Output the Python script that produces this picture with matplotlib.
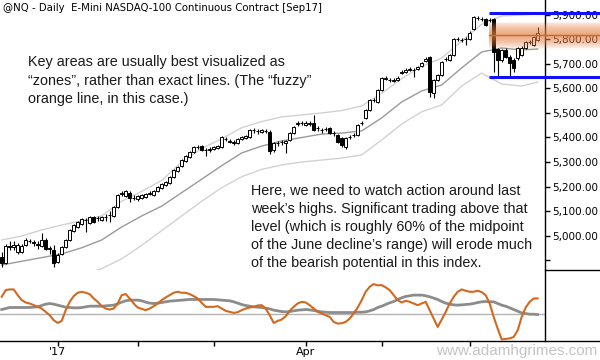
import numpy as np
import matplotlib.pyplot as plt
from matplotlib.lines import Line2D

# daily bars, @NQ Sep17 contract (mid Dec 2016 - late Jun 2017)
opens = [4912, 4888, 4957, 4953, 4933, 4933, 4961, 4978, 4974, 4966,
         4957, 4982, 4945, 4941, 4892, 4925, 4953, 4982, 5018, 5035,
         5047, 5063, 5051, 5076, 5072, 5063, 5076, 5084, 5080, 5116,
         5169, 5161, 5174, 5153, 5149, 5153, 5157, 5169, 5165, 5182,
         5194, 5206, 5214, 5239, 5263, 5284, 5304, 5320, 5341, 5361,
         5365, 5349, 5349, 5353, 5357, 5361, 5394, 5382, 5378, 5378,
         5394, 5398, 5402, 5431, 5427, 5422, 5427, 5422, 5349, 5378,
         5382, 5378, 5390, 5418, 5455, 5459, 5451, 5455, 5459, 5439,
         5431, 5435, 5439, 5418, 5410, 5398, 5361, 5402, 5410, 5410,
         5459, 5480, 5512, 5553, 5545, 5594, 5639, 5635, 5631, 5635,
         5663, 5667, 5675, 5675, 5680, 5692, 5712, 5728, 5582, 5635,
         5655, 5720, 5716, 5737, 5802, 5798, 5802, 5802, 5843, 5888,
         5883, 5883, 5879, 5883, 5761, 5716, 5757, 5728, 5716, 5724,
         5737, 5765, 5790, 5777, 5798]
highs = [4933, 4966, 4978, 4978, 4970, 4966, 4990, 4986, 4982, 4978,
         5010, 4990, 4957, 4961, 4929, 4957, 4986, 5027, 5047, 5059,
         5072, 5072, 5080, 5080, 5080, 5080, 5088, 5100, 5121, 5169,
         5182, 5186, 5182, 5165, 5165, 5169, 5174, 5182, 5186, 5202,
         5214, 5222, 5243, 5272, 5284, 5312, 5329, 5345, 5365, 5369,
         5369, 5357, 5361, 5365, 5369, 5406, 5402, 5394, 5390, 5398,
         5406, 5410, 5435, 5439, 5435, 5435, 5435, 5431, 5382, 5386,
         5390, 5390, 5422, 5447, 5467, 5467, 5467, 5467, 5492, 5447,
         5439, 5443, 5443, 5427, 5414, 5402, 5402, 5410, 5418, 5455,
         5467, 5516, 5557, 5561, 5598, 5647, 5651, 5643, 5643, 5651,
         5675, 5684, 5688, 5684, 5692, 5708, 5728, 5733, 5639, 5659,
         5712, 5728, 5741, 5806, 5810, 5806, 5810, 5835, 5896, 5896,
         5892, 5888, 5888, 5888, 5765, 5761, 5765, 5737, 5724, 5769,
         5773, 5794, 5798, 5814, 5851]
lows = [4872, 4884, 4941, 4941, 4925, 4929, 4957, 4970, 4957, 4945,
        4953, 4941, 4925, 4872, 4888, 4921, 4949, 4978, 5014, 5031,
        5043, 5014, 5047, 5051, 5059, 5059, 5059, 5055, 5076, 5112,
        5161, 5157, 5137, 5145, 5141, 5149, 5153, 5165, 5161, 5178,
        5190, 5202, 5210, 5235, 5259, 5280, 5300, 5316, 5337, 5353,
        5345, 5325, 5341, 5349, 5353, 5357, 5386, 5378, 5369, 5373,
        5390, 5394, 5398, 5418, 5414, 5418, 5418, 5333, 5341, 5365,
        5369, 5337, 5386, 5414, 5447, 5451, 5447, 5447, 5427, 5427,
        5418, 5427, 5414, 5406, 5378, 5361, 5353, 5394, 5402, 5406,
        5451, 5476, 5508, 5545, 5541, 5590, 5635, 5626, 5626, 5631,
        5659, 5663, 5671, 5647, 5675, 5688, 5708, 5565, 5561, 5631,
        5651, 5712, 5712, 5733, 5794, 5790, 5777, 5798, 5839, 5879,
        5875, 5855, 5871, 5667, 5647, 5708, 5724, 5647, 5667, 5716,
        5733, 5761, 5781, 5773, 5794]
closes = [4888, 4957, 4953, 4961, 4961, 4957, 4982, 4978, 4970, 4961,
          4982, 4945, 4949, 4888, 4921, 4953, 4982, 5023, 5043, 5055,
          5068, 5063, 5076, 5055, 5072, 5076, 5076, 5084, 5116, 5165,
          5174, 5182, 5153, 5153, 5161, 5165, 5169, 5174, 5182, 5198,
          5210, 5218, 5239, 5267, 5280, 5308, 5325, 5341, 5361, 5361,
          5349, 5349, 5353, 5361, 5365, 5402, 5394, 5386, 5382, 5394,
          5402, 5406, 5431, 5431, 5427, 5431, 5427, 5345, 5378, 5378,
          5382, 5386, 5418, 5443, 5459, 5459, 5459, 5459, 5431, 5439,
          5431, 5435, 5418, 5418, 5382, 5369, 5398, 5402, 5410, 5451,
          5459, 5512, 5553, 5553, 5594, 5643, 5643, 5635, 5635, 5643,
          5667, 5675, 5680, 5675, 5688, 5704, 5720, 5586, 5635, 5655,
          5708, 5720, 5737, 5802, 5802, 5798, 5802, 5826, 5892, 5888,
          5883, 5859, 5879, 5749, 5716, 5757, 5728, 5704, 5684, 5765,
          5765, 5790, 5790, 5810, 5826]

# channel (sampled every 5 bars)
band_idx = list(range(0, 135, 5)) + [134]
band_mid = [4880, 4895, 4910, 4925, 4950, 4982, 5035, 5080, 5120, 5175,
            5230, 5285, 5337, 5365, 5386, 5400, 5414, 5418, 5427, 5480,
            5545, 5590, 5614, 5684, 5749, 5765, 5757, 5761]
band_up = [4982, 4998, 5023, 5043, 5060, 5080, 5140, 5180, 5225, 5300,
           5355, 5395, 5440, 5465, 5484, 5492, 5500, 5510, 5529, 5580,
           5640, 5690, 5724, 5794, 5862, 5896, 5900, 5904]
band_lo = [4760, 4780, 4800, 4815, 4840, 4865, 4905, 4960, 5020, 5080,
           5140, 5195, 5240, 5270, 5288, 5300, 5308, 5316, 5329, 5390,
           5455, 5505, 5533, 5610, 5663, 5618, 5610, 5626]

# lower panel oscillator
osc_fast = [5.0, 7.0, 7.2, 7.2, 5.5, 4.0, 3.3, 3.0, 2.5, 2.0,
            1.5, 0.5, -0.5, -2.0, -2.8, -2.2, 1.0, 3.5, 5.2, 6.2,
            6.5, 6.2, 5.8, 4.5, 3.5, 2.2, 1.5, 1.2, 1.5, 3.0,
            5.5, 5.8, 4.5, 3.0, 1.8, 1.4, 1.0, 1.5, 2.2, 3.0,
            4.0, 4.8, 5.5, 6.2, 6.5, 6.2, 6.2, 5.8, 5.2, 4.5,
            3.2, 2.0, 2.0, 2.0, 2.2, 1.5, 0.8, 0.5, 0.2, 0.4,
            1.0, 1.5, 1.8, 2.0, 2.4, 2.5, 1.5, -0.5, -2.8, -2.2,
            -1.8, -0.8, 0.8, 2.0, 3.0, 3.5, 3.3, 2.5, 1.5, 0.5,
            0.0, -0.5, -1.0, -2.5, -3.0, -2.9, -2.5, -1.5, 0.0, 1.8,
            4.0, 6.5, 8.0, 8.8, 8.4, 8.5, 7.8, 7.0, 5.5, 4.0,
            3.3, 3.8, 3.5, 3.0, 2.5, 3.0, 3.5, 1.0, -1.5, -4.0,
            -1.8, 0.5, 3.0, 5.0, 6.5, 7.2, 6.8, 6.5, 6.5, 6.8,
            6.4, 5.5, 3.0, -1.0, -4.5, -7.7, -7.6, -7.4, -7.0, -5.0,
            -1.0, 1.8, 3.5, 4.5, 4.5]
osc_slow = [1.2, 1.5, 1.8, 1.8, 1.8, 1.8, 1.8, 1.8, 1.9, 2.0,
            2.4, 2.8, 3.0, 2.8, 2.5, 2.2, 1.9, 1.8, 1.7, 1.7,
            1.8, 2.0, 2.2, 2.2, 2.2, 2.2, 2.3, 2.4, 2.5, 2.9,
            3.4, 3.8, 4.0, 4.0, 4.0, 3.8, 3.4, 3.1, 3.0, 3.1,
            3.3, 3.5, 3.7, 3.8, 3.9, 4.0, 4.1, 4.2, 4.2, 4.2,
            4.2, 4.2, 4.2, 4.2, 4.1, 4.0, 3.9, 3.8, 3.5, 3.1,
            2.7, 2.4, 2.2, 2.0, 1.9, 1.8, 1.6, 1.4, 1.0, 0.8,
            0.6, 0.5, 0.6, 0.8, 1.0, 1.1, 1.2, 1.1, 0.9, 0.7,
            0.5, 0.4, 0.3, 0.3, 0.3, 0.3, 0.3, 0.3, 0.3, 0.4,
            0.4, 0.5, 0.8, 1.2, 1.8, 2.2, 2.7, 3.2, 3.6, 4.2,
            4.7, 5.1, 5.3, 5.5, 5.5, 5.5, 5.3, 5.0, 4.6, 4.2,
            3.6, 3.1, 2.8, 2.6, 2.5, 2.6, 2.7, 2.8, 3.0, 3.3,
            3.5, 3.6, 3.5, 3.5, 3.0, 2.5, 2.2, 1.7, 1.2, 0.7,
            0.2, 0.0, -0.2, -0.2, -0.3]

# month ticks (bar index of first session)
month_idx = [14, 34, 53, 76, 95, 117]
month_lbl = ["'17", "", "", "Apr", "", ""]
price_ticks = [4900, 5000, 5100, 5200, 5300, 5400, 5500, 5600, 5700, 5800, 5900]

# key levels
box_top, box_bot = 5908, 5645
zone_level = 5818
box_start = 121.8

n = len(closes)
idx = np.arange(n)
o = np.array(opens); c = np.array(closes)
h = np.array(highs); l = np.array(lows)

fig = plt.figure(figsize=(6, 3.6), dpi=100)
ax = fig.add_axes([0, 0.25, 545/600, 0.75])
ax2 = fig.add_axes([0, 19/360, 545/600, 0.25 - 19/360])

xlim = (-0.425, 135.83)

# channel lines
ax.plot(band_idx, band_up, color='#d2d2d2', lw=1, zorder=1)
ax.plot(band_idx, band_lo, color='#d2d2d2', lw=1, zorder=1)
ax.plot(band_idx, band_mid, color='#9a9a9a', lw=1, zorder=1)

# candles
ax.vlines(idx, l, h, color='black', lw=0.8, zorder=2)
up = c >= o
body_lo = np.minimum(o, c)
body_h = np.maximum(np.abs(c - o), 0.6)
ax.bar(idx[up], body_h[up], bottom=body_lo[up], width=0.62,
       facecolor='white', edgecolor='black', lw=0.7, zorder=3)
ax.bar(idx[~up], body_h[~up], bottom=body_lo[~up], width=0.62,
       facecolor='black', edgecolor='black', lw=0.7, zorder=3)

# fuzzy orange zone
for k in range(14):
    half = 55 * (1 - k / 14.0)
    ax.fill_between([box_start, 150], zone_level - half, zone_level + half,
                    color='#e9854a', alpha=0.08, lw=0, clip_on=False, zorder=4)
ax.plot([box_start, 150], [zone_level, zone_level], color='#c8692a', lw=1,
        clip_on=False, zorder=5)

# blue box
ax.plot([box_start, 150], [box_top, box_top], color='#1010ff', lw=2.2,
        clip_on=False, zorder=6, solid_capstyle='butt')
ax.plot([box_start, 150], [box_bot, box_bot], color='#1010ff', lw=2.2,
        clip_on=False, zorder=6, solid_capstyle='butt')

ax.set_xlim(xlim)
ax.set_ylim(4859.4, 5961)
for s in ['left', 'top', 'bottom']:
    ax.spines[s].set_visible(False)
ax.spines['right'].set_linewidth(1)
ax.yaxis.tick_right()
ax.set_yticks(price_ticks)
ax.set_yticklabels([''] + ['{:,.2f}'.format(p) for p in price_ticks[1:]],
                   fontsize=7.5, family='DejaVu Sans')
ax.tick_params(axis='y', direction='out', length=3.5, width=1, pad=1.5)
ax.set_xticks([])

# oscillator
ax2.axhline(0, color='#b4b4b4', lw=1, zorder=1)
ax2.plot(idx, osc_slow, color='#8c8c8c', lw=2.0, zorder=2)
ax2.plot(idx, osc_fast, color='#d2691e', lw=1.5, zorder=3)
ax2.set_xlim(xlim)
ax2.set_ylim(-8.2, 13)
for s in ['left', 'top', 'bottom']:
    ax2.spines[s].set_visible(False)
ax2.spines['right'].set_linewidth(1)
ax2.set_yticks([])
ax2.set_xticks(month_idx)
ax2.set_xticklabels(month_lbl, fontsize=8, family='DejaVu Sans')
ax2.tick_params(axis='x', direction='out', length=3.5, width=1, pad=1)

# frame lines
fig.add_artist(Line2D([545/600, 1], [0.25, 0.25], color='black', lw=1))
fig.add_artist(Line2D([0, 1], [19/360, 19/360], color='black', lw=1))

# texts
fig.text(3/600, 1 - 8/360, '@NQ - Daily  E-Mini NASDAQ-100 Continuous Contract [Sep17]',
         fontsize=7.3, family='DejaVu Sans', va='center', ha='left')

note1 = ['Key areas are usually best visualized as',
         '\u201czones\u201d, rather than exact lines. (The \u201cfuzzy\u201d',
         'orange line, in this case.)']
for k, t in enumerate(note1):
    fig.text(28/600, 1 - (62 + 18.5*k)/360, t, fontsize=10.4,
             family='Liberation Sans', color='#1a1a1a', va='center', ha='left')

note2 = ['Here, we need to watch action around last',
         'week\u2019s highs. Significant trading above that',
         'level (which is roughly 60% of the midpoint',
         'of the June decline\u2019s range) will erode much',
         'of the bearish potential in this index.']
for k, t in enumerate(note2):
    fig.text(251/600, 1 - (191 + 18*k)/360, t, fontsize=10.4,
             family='Liberation Sans', color='#1a1a1a', va='center', ha='left')

fig.text(597/600, 1 - 351/360, 'www.adamhgrimes.com', fontsize=11,
         family='Liberation Sans', color='#c4c4c4', va='center', ha='right')

plt.savefig('out.png', dpi=100)
